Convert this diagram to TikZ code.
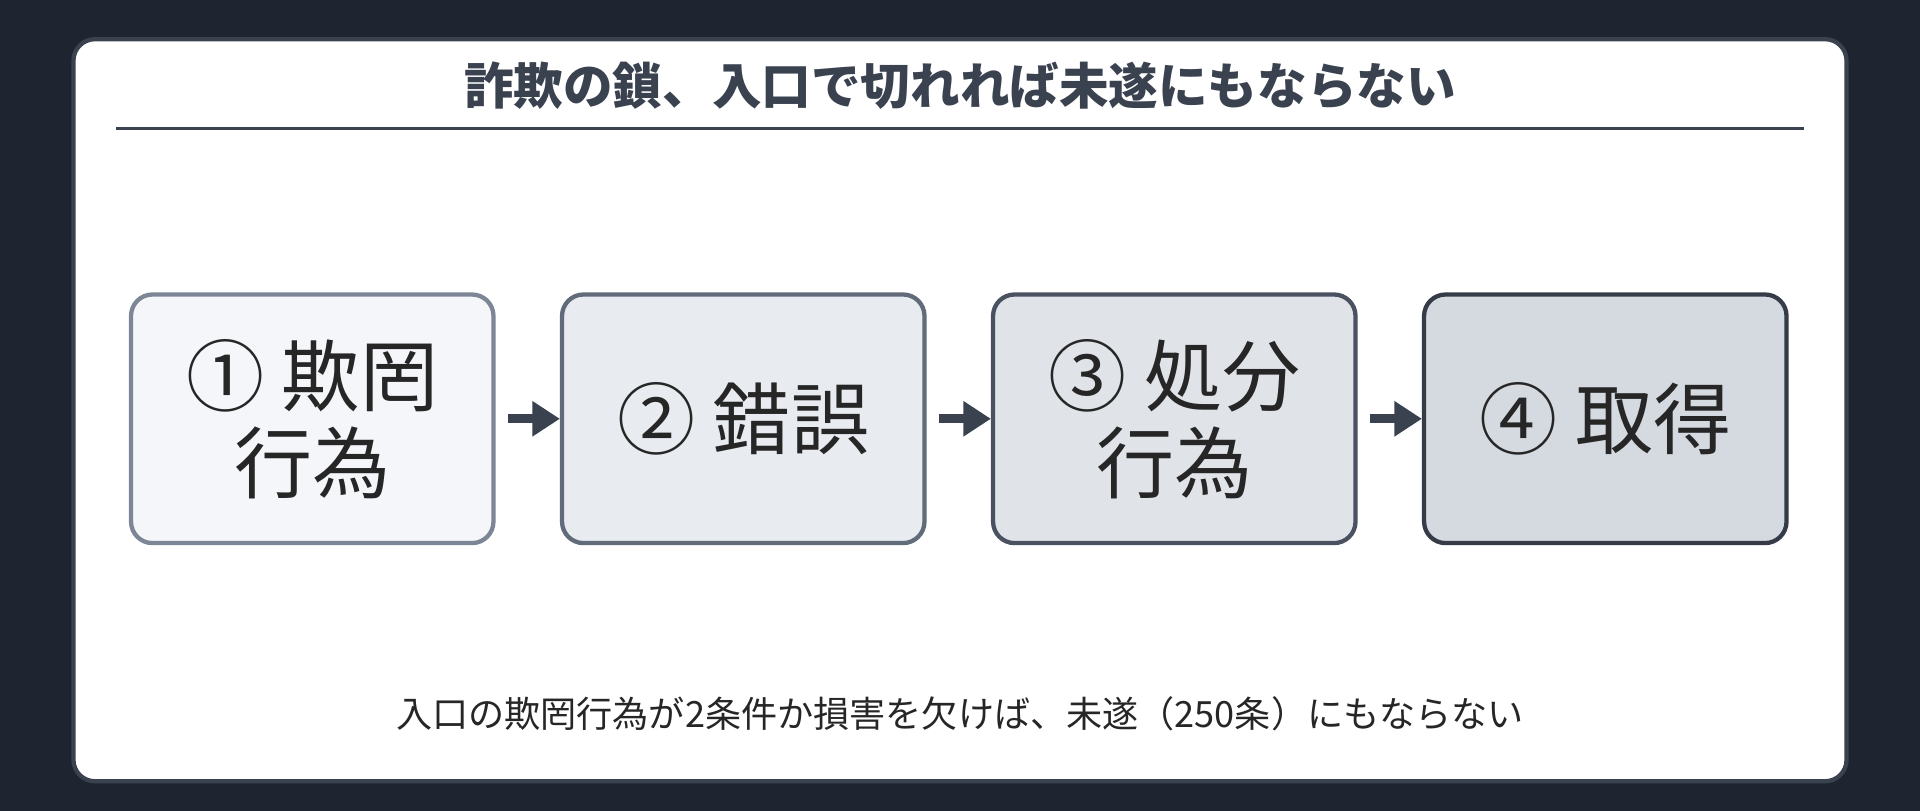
\documentclass[tikz,border=0pt]{standalone}
\usepackage{fontspec}
\setmainfont{Noto Sans CJK JP}
\usetikzlibrary{arrows.meta,positioning}
\definecolor{bgdark}{HTML}{1E2530}
\definecolor{ink}{HTML}{3A4250}
\definecolor{edgeA}{HTML}{7D8696}
\definecolor{edgeB}{HTML}{626B7A}
\definecolor{edgeC}{HTML}{4A5261}
\definecolor{edgeD}{HTML}{353C48}
\definecolor{fillA}{HTML}{F4F6F9}
\definecolor{fillB}{HTML}{E8EBEF}
\definecolor{fillC}{HTML}{E0E3E8}
\definecolor{fillD}{HTML}{D5D9E0}
\tikzset{every picture/.style={
  >={Triangle[length=9pt,width=11pt]}   % heavy arrow heads
  }
}

\begin{document}
\begin{tikzpicture}[x=0.4pt,y=-0.4pt,
        node distance=0pt,
        step/.style 2 args={
          draw=#1,
          fill=#2,
          line width=1.4pt,
          rounded corners=7pt,
          minimum width=296*0.4pt,
          minimum height=203*0.4pt,
          align=center,
          font=\fontsize{25.5}{28.4}\selectfont,
          text=black!85
        },
        link/.style={->,draw=ink,line width=3pt}]

        % Frame and background.
        \fill[bgdark] (0,0) rectangle (1568,662);
        \draw[ink,fill=white,line width=1.4pt,rounded corners=7pt] (60,32) rectangle (1508,638);
        \node[font=\bfseries\fontsize{16.2}{18}\selectfont,text=ink] (title) at (784,70)
          {詐欺の鎖、入口で切れれば未遂にもならない};
        \draw[ink,line width=0.8pt] (95,105) -- (1473,105);

        % The four steps.
        \node[step={edgeA}{fillA}] (s1) at (255,342) {① 欺罔\\行為};
        \node[step={edgeB}{fillB}] (s2) at (607,342) {② 錯誤};
        \node[step={edgeC}{fillC}] (s3) at (959,342) {③ 処分\\行為};
        \node[step={edgeD}{fillD}] (s4) at (1311,342) {④ 取得};

        \draw[link] ([xshift=4pt] s1.east) -- (s2.west);
        \draw[link] ([xshift=4pt] s2.east) -- (s3.west);
        \draw[link] ([xshift=4pt] s3.east) -- (s4.west);

        % Note.
        \node[font=\fontsize{11.8}{13}\selectfont,text=black!85] (note) at (784,583)
          {入口の欺罔行為が2条件か損害を欠けば、未遂（250条）にもならない};
      \end{tikzpicture}
\end{document}
